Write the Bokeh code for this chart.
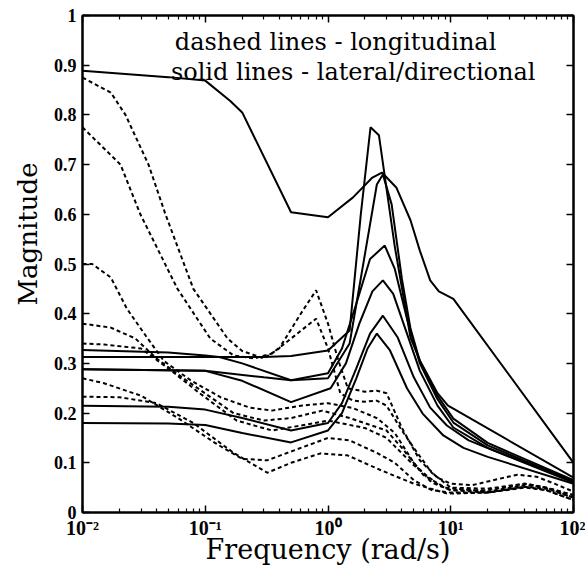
from bokeh.plotting import figure
from bokeh.models import FixedTicker, LinearAxis, LogAxis, Label, CustomJSTickFormatter, Range1d, Title
from bokeh.embed import file_html
from bokeh.resources import INLINE

# ---------------- data ----------------
x_ticks = [0.01, 0.1, 1, 10, 100]
x_tick_labels = ["10\u207b\u00b2", "10\u207b\u00b9", "10\u2070", "10\u00b9", "10\u00b2"]
y_ticks = [0, 0.1, 0.2, 0.3, 0.4, 0.5, 0.6, 0.7, 0.8, 0.9, 1]
y_tick_labels = ["0", "0.1", "0.2", "0.3", "0.4", "0.5", "0.6", "0.7", "0.8", "0.9", "1"]

# solid lines - lateral/directional
s1_f = [0.01, 0.05, 0.1, 0.16, 0.2, 0.5, 1.0, 1.6, 2.3, 2.75, 3.6, 4.7, 5.6, 6.8, 8.0, 10.5, 100]
s1_m = [0.889, 0.876, 0.869, 0.828, 0.805, 0.604, 0.594, 0.634, 0.674, 0.684, 0.654, 0.588, 0.527, 0.467, 0.445, 0.43, 0.10]

s2_f = [0.01, 0.1, 0.3, 0.5, 1.0, 1.5, 1.85, 2.22, 2.6, 3.5, 4.7, 5.6, 7.8, 9.5, 10.5, 100]
s2_m = [0.313, 0.313, 0.313, 0.315, 0.326, 0.366, 0.60, 0.775, 0.759, 0.535, 0.352, 0.306, 0.24, 0.215, 0.209, 0.07]

s3_f = [0.01, 0.05, 0.1, 0.13, 0.2, 0.5, 1.0, 1.5, 2.0, 2.5, 2.8, 3.3, 4.0, 4.7, 5.6, 7.8, 10.5, 20, 100]
s3_m = [0.327, 0.322, 0.316, 0.313, 0.30, 0.266, 0.27, 0.34, 0.52, 0.66, 0.68, 0.62, 0.47, 0.37, 0.305, 0.235, 0.189, 0.14, 0.065]

s4_f = [0.01, 0.1, 0.3, 0.5, 1.0, 1.3, 1.7, 2.2, 2.9, 3.5, 4.4, 5.6, 7.8, 10.5, 20, 100]
s4_m = [0.288, 0.285, 0.272, 0.266, 0.28, 0.33, 0.42, 0.51, 0.537, 0.49, 0.39, 0.30, 0.228, 0.181, 0.135, 0.063]

s5_f = [0.01, 0.1, 0.2, 0.5, 1.05, 1.4, 1.8, 2.3, 2.8, 3.4, 4.4, 5.6, 7.8, 10.5, 20, 100]
s5_m = [0.288, 0.285, 0.265, 0.222, 0.25, 0.30, 0.38, 0.445, 0.467, 0.44, 0.36, 0.285, 0.215, 0.171, 0.13, 0.062]

s6_f = [0.01, 0.05, 0.1, 0.2, 0.5, 1.0, 1.3, 1.7, 2.2, 2.8, 3.7, 5.0, 6.8, 9.3, 14, 100]
s6_m = [0.215, 0.213, 0.207, 0.19, 0.165, 0.18, 0.22, 0.29, 0.36, 0.396, 0.352, 0.272, 0.211, 0.175, 0.145, 0.06]

s7_f = [0.01, 0.05, 0.1, 0.2, 0.5, 1.0, 1.3, 1.7, 2.1, 2.5, 3.2, 4.4, 5.9, 8.7, 12.7, 20, 100]
s7_m = [0.18, 0.179, 0.176, 0.16, 0.141, 0.165, 0.20, 0.27, 0.33, 0.36, 0.326, 0.25, 0.199, 0.155, 0.13, 0.112, 0.058]

# dashed lines - longitudinal
d1_f = [0.01, 0.017, 0.0224, 0.0345, 0.0474, 0.08, 0.152, 0.2, 0.3, 0.4, 0.6, 0.8, 1.0, 1.2, 1.45, 2.0, 2.5, 3.0, 4.0, 5.6, 7.8, 10, 15, 25, 35, 50, 70, 100]
d1_m = [0.875, 0.845, 0.80, 0.70, 0.60, 0.45, 0.35, 0.325, 0.31, 0.33, 0.40, 0.447, 0.38, 0.31, 0.25, 0.243, 0.245, 0.24, 0.17, 0.105, 0.07, 0.058, 0.055, 0.068, 0.076, 0.072, 0.058, 0.042]

d2_f = [0.01, 0.0204, 0.0296, 0.0594, 0.11, 0.17, 0.25, 0.35, 0.5, 0.8, 1.0, 1.26, 1.6, 2.0, 2.5, 3.0, 4.0, 5.0, 7.0, 10, 20, 40, 60, 100]
d2_m = [0.775, 0.70, 0.60, 0.45, 0.35, 0.316, 0.31, 0.32, 0.35, 0.39, 0.33, 0.24, 0.225, 0.223, 0.225, 0.215, 0.165, 0.13, 0.08, 0.05, 0.048, 0.058, 0.05, 0.035]

d3_f = [0.01, 0.012, 0.017, 0.023, 0.034, 0.046, 0.076, 0.133, 0.23, 0.35, 0.6, 1.0, 1.6, 2.5, 3.5, 5.0, 7.0, 10, 20, 40, 60, 100]
d3_m = [0.50, 0.50, 0.473, 0.41, 0.35, 0.305, 0.266, 0.232, 0.211, 0.205, 0.215, 0.22, 0.21, 0.19, 0.16, 0.10, 0.06, 0.045, 0.045, 0.058, 0.05, 0.035]

d4_f = [0.01, 0.017, 0.027, 0.04, 0.07, 0.17, 0.3, 0.5, 0.9, 1.5, 3.0, 4.0, 6.0, 9.0, 20, 40, 60, 100]
d4_m = [0.38, 0.372, 0.35, 0.31, 0.266, 0.20, 0.185, 0.19, 0.205, 0.19, 0.165, 0.13, 0.075, 0.05, 0.042, 0.055, 0.05, 0.03]

d5_f = [0.01, 0.015, 0.03, 0.05, 0.09, 0.18, 0.35, 0.6, 1.0, 2.0, 3.0, 5.0, 8.0, 10, 20, 40, 60, 100]
d5_m = [0.34, 0.338, 0.33, 0.29, 0.24, 0.185, 0.165, 0.175, 0.185, 0.17, 0.15, 0.095, 0.055, 0.045, 0.04, 0.052, 0.048, 0.03]

d6_f = [0.01, 0.015, 0.03, 0.06, 0.12, 0.2, 0.32, 0.6, 1.0, 1.5, 2.5, 3.5, 5.0, 7.0, 10, 20, 40, 60, 100]
d6_m = [0.27, 0.26, 0.235, 0.19, 0.14, 0.108, 0.105, 0.13, 0.15, 0.145, 0.12, 0.10, 0.065, 0.045, 0.04, 0.04, 0.052, 0.045, 0.025]

d7_f = [0.01, 0.02, 0.04, 0.08, 0.17, 0.32, 0.5, 0.87, 1.44, 2.7, 5.0, 9.4, 20, 40, 60, 100]
d7_m = [0.233, 0.232, 0.22, 0.18, 0.12, 0.08, 0.10, 0.119, 0.115, 0.085, 0.058, 0.038, 0.04, 0.05, 0.045, 0.025]

solid_f = [s1_f, s2_f, s3_f, s4_f, s5_f, s6_f, s7_f]
solid_m = [s1_m, s2_m, s3_m, s4_m, s5_m, s6_m, s7_m]
dashed_f = [d1_f, d2_f, d3_f, d4_f, d5_f, d6_f, d7_f]
dashed_m = [d1_m, d2_m, d3_m, d4_m, d5_m, d6_m, d7_m]

# ---------------- figure ----------------
p = figure(x_axis_type="log", x_range=Range1d(0.01, 100), y_range=Range1d(0, 1),
           frame_width=491, frame_height=497,
           min_border_left=82, min_border_right=12, min_border_top=15, min_border_bottom=52,
           output_backend="svg", toolbar_location=None)
p.grid.visible = False
p.outline_line_color = "black"
p.outline_line_width = 2
p.background_fill_color = "white"
p.border_fill_color = "white"

minor_x = [m * 10.0 ** e for e in range(-2, 2) for m in range(2, 10)]
xt = FixedTicker(ticks=x_ticks, minor_ticks=minor_x)
yt = FixedTicker(ticks=y_ticks, minor_ticks=[])
blank = CustomJSTickFormatter(code="return ''")


def style(ax, size="17px"):
    ax.axis_line_width = 2
    ax.axis_line_color = "black"
    ax.major_tick_in = 7
    ax.major_tick_out = 0
    ax.minor_tick_in = 4
    ax.minor_tick_out = 0
    ax.major_tick_line_width = 1.5
    ax.minor_tick_line_width = 1.2
    ax.major_tick_line_color = "black"
    ax.minor_tick_line_color = "black"
    ax.major_label_text_font = "Liberation Serif"
    ax.major_label_text_font_style = "bold"
    ax.major_label_text_font_size = size
    ax.major_label_text_color = "black"
    ax.major_label_standoff = 6


xa = p.xaxis[0]
ya = p.yaxis[0]
xa.ticker = xt
ya.ticker = yt
style(xa, "20px")
style(ya, "18px")
xa.major_label_standoff = 4
xa.major_label_overrides = dict(zip(x_ticks, x_tick_labels))
ya.major_label_overrides = dict(zip(y_ticks, y_tick_labels))

xa.axis_label = "Frequency (rad/s)"
xa.axis_label_text_font = "DejaVu Serif"
xa.axis_label_text_font_style = "normal"
xa.axis_label_text_font_size = "27px"
xa.axis_label_text_color = "black"
xa.axis_label_standoff = -8

top = LogAxis(ticker=xt, formatter=blank)
style(top)
p.add_layout(top, "above")
right = LinearAxis(ticker=yt, formatter=blank)
style(right)
p.add_layout(right, "right")

for f, m in zip(dashed_f, dashed_m):
    p.line(f, m, line_color="black", line_width=2, line_dash="4 3")
for f, m in zip(solid_f, solid_m):
    p.line(f, m, line_color="black", line_width=2)

# y axis title, placed a little above the frame centre as in the original
ytitle = Title(text="Magnitude", align="left", offset=207, standoff=16,
               text_font="DejaVu Serif", text_font_size="26px",
               text_font_style="normal", text_color="black")
p.add_layout(ytitle, "left")

p.add_layout(Label(x=0.0565, y=0.947, text="dashed lines - longitudinal",
                   text_font="DejaVu Serif", text_font_size="24px",
                   text_baseline="alphabetic", text_color="black"))
p.add_layout(Label(x=0.0525, y=0.886, text="solid lines - lateral/directional",
                   text_font="DejaVu Serif", text_font_size="24px",
                   text_baseline="alphabetic", text_color="black"))

open("out.html", "w").write(file_html(p, INLINE))
